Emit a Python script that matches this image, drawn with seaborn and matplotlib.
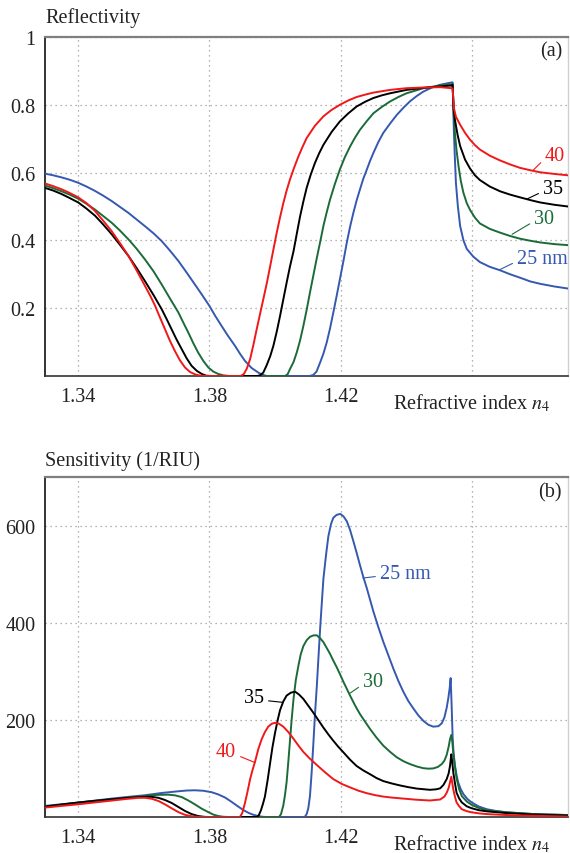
import numpy as np
import pandas as pd
import matplotlib
matplotlib.use("Agg")
import matplotlib.pyplot as plt
import seaborn as sns

# ---------------- data: reflectivity (panel a) ----------------
n_r40 = [1.3300, 1.3325, 1.3350, 1.3375, 1.3401, 1.3426, 1.3452, 1.3477, 1.3503, 1.3528, 1.3554, 1.3579,
         1.3604, 1.3620, 1.3635, 1.3650, 1.3665, 1.3680, 1.3695, 1.3710, 1.3726, 1.3741, 1.3756, 1.3772,
         1.3790, 1.3895, 1.3905, 1.3914, 1.3924, 1.3934, 1.3944, 1.3954, 1.3964, 1.3975, 1.3985, 1.3995,
         1.4005, 1.4015, 1.4025, 1.4035, 1.4045, 1.4058, 1.4071, 1.4084, 1.4096, 1.4121, 1.4147, 1.4172,
         1.4197, 1.4223, 1.4248, 1.4274, 1.4299, 1.4350, 1.4400, 1.4451, 1.4502, 1.4537, 1.4540, 1.4544,
         1.4550, 1.4563, 1.4578, 1.4593, 1.4608, 1.4623, 1.4653, 1.4684, 1.4715, 1.4745, 1.4776, 1.4806,
         1.4850, 1.4891]
r40 = [0.568, 0.560, 0.551, 0.540, 0.527, 0.510, 0.487, 0.458, 0.427, 0.392, 0.354, 0.311,
       0.266, 0.237, 0.207, 0.172, 0.138, 0.104, 0.074, 0.047, 0.025, 0.012, 0.005, 0.001,
       0.0, 0.0, 0.006, 0.022, 0.05, 0.092, 0.138, 0.182, 0.226, 0.275, 0.324, 0.374,
       0.423, 0.468, 0.51, 0.547, 0.579, 0.615, 0.648, 0.677, 0.702, 0.738, 0.766, 0.785,
       0.800, 0.813, 0.823, 0.830, 0.836, 0.844, 0.849, 0.851, 0.852, 0.849, 0.848, 0.790,
       0.765, 0.741, 0.717, 0.697, 0.681, 0.668, 0.650, 0.636, 0.624, 0.614, 0.607, 0.601,
       0.596, 0.592]

n_r35 = [1.3300, 1.3325, 1.3350, 1.3375, 1.3401, 1.3426, 1.3452, 1.3477, 1.3503, 1.3528, 1.3554, 1.3579,
         1.3604, 1.3630, 1.3655, 1.3670, 1.3685, 1.3700, 1.3716, 1.3731, 1.3746, 1.3762, 1.3777, 1.3790,
         1.3805, 1.3945, 1.3954, 1.3964, 1.3974, 1.3985, 1.3995, 1.4005, 1.4015, 1.4025, 1.4035, 1.4045,
         1.4056, 1.4066, 1.4076, 1.4086, 1.4096, 1.4108, 1.4121, 1.4134, 1.4147, 1.4172, 1.4197, 1.4223,
         1.4248, 1.4274, 1.4299, 1.4325, 1.4350, 1.4400, 1.4451, 1.4502, 1.4537, 1.4540, 1.4543, 1.4547,
         1.4555, 1.4563, 1.4578, 1.4593, 1.4608, 1.4623, 1.4653, 1.4684, 1.4715, 1.4745, 1.4776, 1.4806,
         1.4850, 1.4891]
r35 = [0.555, 0.547, 0.537, 0.525, 0.512, 0.494, 0.473, 0.447, 0.418, 0.387, 0.354, 0.318,
       0.280, 0.239, 0.197, 0.168, 0.138, 0.108, 0.079, 0.052, 0.030, 0.015, 0.006, 0.001,
       0.0, 0.0, 0.002, 0.010, 0.031, 0.058, 0.090, 0.131, 0.177, 0.226, 0.275, 0.322,
       0.368, 0.420, 0.471, 0.515, 0.555, 0.593, 0.628, 0.657, 0.682, 0.720, 0.751, 0.775,
       0.795, 0.809, 0.820, 0.828, 0.834, 0.844, 0.850, 0.854, 0.857, 0.859, 0.790, 0.756,
       0.712, 0.678, 0.638, 0.612, 0.592, 0.578, 0.559, 0.545, 0.535, 0.527, 0.519, 0.512,
       0.505, 0.500]

n_r30 = [1.3300, 1.3325, 1.3350, 1.3375, 1.3401, 1.3426, 1.3452, 1.3477, 1.3503, 1.3528, 1.3554, 1.3579,
         1.3604, 1.3630, 1.3655, 1.3680, 1.3706, 1.3721, 1.3736, 1.3751, 1.3766, 1.3782, 1.3797, 1.3812,
         1.3827, 1.3842, 1.3860, 1.4030, 1.4038, 1.4045, 1.4056, 1.4066, 1.4076, 1.4086, 1.4096, 1.4106,
         1.4116, 1.4126, 1.4137, 1.4147, 1.4157, 1.4167, 1.4182, 1.4197, 1.4212, 1.4228, 1.4243, 1.4258,
         1.4279, 1.4299, 1.4325, 1.4350, 1.4375, 1.4400, 1.4451, 1.4502, 1.4537, 1.4540, 1.4543, 1.4547,
         1.4552, 1.4558, 1.4565, 1.4573, 1.4583, 1.4593, 1.4608, 1.4623, 1.4653, 1.4684, 1.4715, 1.4745,
         1.4776, 1.4806, 1.4850, 1.4891]
r30 = [0.562, 0.554, 0.545, 0.535, 0.523, 0.508, 0.491, 0.472, 0.452, 0.429, 0.403, 0.375,
       0.344, 0.309, 0.270, 0.229, 0.187, 0.157, 0.128, 0.097, 0.069, 0.044, 0.025, 0.013,
       0.006, 0.002, 0.0, 0.0, 0.005, 0.02, 0.041, 0.07, 0.105, 0.148, 0.195, 0.246,
       0.295, 0.344, 0.395, 0.443, 0.483, 0.52, 0.567, 0.609, 0.645, 0.677, 0.703, 0.726,
       0.752, 0.775, 0.794, 0.810, 0.823, 0.834, 0.849, 0.857, 0.860, 0.862, 0.780, 0.717,
       0.665, 0.619, 0.575, 0.540, 0.510, 0.490, 0.467, 0.450, 0.434, 0.423, 0.413, 0.405,
       0.399, 0.394, 0.389, 0.386]

n_r25 = [1.3300, 1.3325, 1.3350, 1.3375, 1.3401, 1.3426, 1.3452, 1.3477, 1.3503, 1.3554, 1.3604, 1.3630,
         1.3655, 1.3680, 1.3706, 1.3731, 1.3756, 1.3778, 1.3800, 1.3818, 1.3837, 1.3857, 1.3878, 1.3893,
         1.3908, 1.3928, 1.3949, 1.3960, 1.3975, 1.4105, 1.4116, 1.4126, 1.4137, 1.4147, 1.4157, 1.4167,
         1.4177, 1.4187, 1.4197, 1.4208, 1.4218, 1.4228, 1.4238, 1.4248, 1.4258, 1.4268, 1.4279, 1.4289,
         1.4299, 1.4314, 1.4329, 1.4350, 1.4370, 1.4390, 1.4410, 1.4431, 1.4451, 1.4477, 1.4502, 1.4537,
         1.4540, 1.4544, 1.4547, 1.4550, 1.4556, 1.4563, 1.4573, 1.4583, 1.4603, 1.4623, 1.4653, 1.4684,
         1.4715, 1.4745, 1.4776, 1.4806, 1.4850, 1.4891]
r25 = [0.597, 0.592, 0.586, 0.579, 0.570, 0.559, 0.546, 0.532, 0.516, 0.481, 0.442, 0.421,
       0.398, 0.370, 0.339, 0.305, 0.270, 0.239, 0.207, 0.177, 0.148, 0.118, 0.089, 0.066,
       0.045, 0.024, 0.010, 0.004, 0.0, 0.0, 0.003, 0.013, 0.04, 0.066, 0.099, 0.140,
       0.187, 0.235, 0.285, 0.340, 0.393, 0.440, 0.481, 0.518, 0.55, 0.581, 0.609, 0.635,
       0.658, 0.690, 0.717, 0.745, 0.77, 0.791, 0.81, 0.826, 0.839, 0.851, 0.859, 0.866,
       0.866, 0.717, 0.640, 0.570, 0.500, 0.442, 0.400, 0.375, 0.352, 0.336, 0.322, 0.312,
       0.300, 0.290, 0.279, 0.272, 0.264, 0.258]

# ---------------- data: sensitivity (panel b) ----------------
n_s40 = [1.3300, 1.3350, 1.3401, 1.3452, 1.3503, 1.3545, 1.3584, 1.3605, 1.3625, 1.3645, 1.3665, 1.3685,
         1.3706, 1.3726, 1.3746, 1.3765, 1.3780, 1.3893, 1.3900, 1.3908, 1.3916, 1.3924, 1.3931, 1.3939,
         1.3949, 1.3959, 1.3969, 1.3979, 1.3990, 1.4000, 1.4012, 1.4025, 1.4040, 1.4056, 1.4071, 1.4086,
         1.4106, 1.4127, 1.4152, 1.4177, 1.4203, 1.4228, 1.4254, 1.4279, 1.4304, 1.4329, 1.4355, 1.4380,
         1.4431, 1.4471, 1.4502, 1.4515, 1.4522, 1.4528, 1.4532, 1.4536, 1.4539, 1.4542, 1.4547, 1.4552,
         1.4560, 1.4568, 1.4583, 1.4598, 1.4620, 1.4644, 1.4705, 1.4786, 1.4891]
s40 = [19.4, 22.8, 26.2, 30, 33.8, 37, 39.5, 39.5, 37.5, 33, 26, 18,
       10, 4.5, 1.5, 0.3, 0, 0, 8, 28, 52, 78, 96, 114,
       140, 160, 175, 186, 192, 194, 192, 186, 175, 161, 147, 134,
       120, 107, 92, 78, 68, 61, 54, 49, 45, 42, 40, 38.5,
       35.5, 34, 36, 42, 50, 60, 71, 83, 70, 57, 42, 30,
       22, 16, 12, 9.6, 7.5, 6, 4, 2.6, 0.8]

n_s35 = [1.3300, 1.3350, 1.3401, 1.3452, 1.3503, 1.3554, 1.3604, 1.3625, 1.3645, 1.3665, 1.3685, 1.3706,
         1.3726, 1.3746, 1.3766, 1.3785, 1.3800, 1.3944, 1.3950, 1.3957, 1.3963, 1.3969, 1.3977, 1.3985,
         1.3992, 1.4000, 1.4008, 1.4015, 1.4025, 1.4035, 1.4048, 1.4061, 1.4073, 1.4086, 1.4101, 1.4116,
         1.4132, 1.4147, 1.4162, 1.4177, 1.4193, 1.4208, 1.4228, 1.4248, 1.4268, 1.4289, 1.4309, 1.4329,
         1.4355, 1.4380, 1.4405, 1.4431, 1.4471, 1.4490, 1.4502, 1.4512, 1.4522, 1.4528, 1.4532, 1.4536,
         1.4539, 1.4542, 1.4547, 1.4552, 1.4560, 1.4568, 1.4583, 1.4598, 1.4620, 1.4644, 1.4705, 1.4786,
         1.4891]
s35 = [21.4, 25.5, 29.7, 33.2, 36.5, 39.5, 41.5, 41.5, 39.5, 35, 29, 20.5,
       12.4, 6, 2, 0.3, 0, 0, 3, 14, 27, 42, 75, 112,
       144, 174, 200, 220, 238, 250, 256, 258, 252, 243, 229, 215,
       199, 184, 170, 157, 144, 133, 118, 105, 96, 88, 80, 74,
       69, 65, 61.5, 58.5, 56, 57, 59, 66, 78, 90, 105, 129,
       112, 92, 70, 50, 38, 30, 22, 18, 14, 11.6, 8, 5,
       3]

n_s30 = [1.3300, 1.3350, 1.3401, 1.3452, 1.3503, 1.3554, 1.3604, 1.3640, 1.3675, 1.3696, 1.3716, 1.3736,
         1.3756, 1.3777, 1.3797, 1.3812, 1.3827, 1.3842, 1.3858, 1.4012, 1.4018, 1.4025, 1.4030, 1.4035,
         1.4040, 1.4045, 1.4050, 1.4056, 1.4063, 1.4071, 1.4078, 1.4086, 1.4096, 1.4106, 1.4117, 1.4127,
         1.4137, 1.4147, 1.4157, 1.4167, 1.4177, 1.4187, 1.4198, 1.4208, 1.4218, 1.4228, 1.4243, 1.4258,
         1.4274, 1.4289, 1.4309, 1.4329, 1.4350, 1.4370, 1.4390, 1.4410, 1.4431, 1.4451, 1.4466, 1.4481,
         1.4495, 1.4507, 1.4515, 1.4522, 1.4528, 1.4532, 1.4536, 1.4539, 1.4542, 1.4547, 1.4552, 1.4560,
         1.4568, 1.4583, 1.4598, 1.4620, 1.4644, 1.4705, 1.4786, 1.4891]
s30 = [21.4, 25.5, 29.7, 33.2, 36.5, 40, 43.4, 45.5, 46, 44.5, 41, 34,
       26, 17, 10, 5, 2, 0.5, 0, 0, 6, 24, 45, 72,
       112, 155, 198, 243, 282, 312, 335, 352, 364, 371, 374, 374,
       368, 360, 348, 336, 322, 309, 293, 278, 264, 250, 230, 212,
       196, 181, 163, 147, 134, 123, 115, 109, 104, 100.5, 99.5, 100,
       103, 109, 116, 128, 145, 160, 169, 155, 133, 104, 80, 57,
       43, 32, 25, 18.5, 14, 9.6, 6, 4]

n_s25 = [1.3300, 1.3350, 1.3401, 1.3452, 1.3503, 1.3554, 1.3604, 1.3655, 1.3706, 1.3731, 1.3756, 1.3782,
         1.3807, 1.3827, 1.3848, 1.3868, 1.3888, 1.3904, 1.3919, 1.3934, 1.3949, 1.3960, 1.3972, 1.4090,
         1.4096, 1.4101, 1.4106, 1.4111, 1.4116, 1.4121, 1.4127, 1.4132, 1.4137, 1.4142, 1.4147, 1.4155,
         1.4162, 1.4170, 1.4177, 1.4187, 1.4198, 1.4208, 1.4218, 1.4228, 1.4238, 1.4248, 1.4258, 1.4268,
         1.4279, 1.4289, 1.4299, 1.4314, 1.4329, 1.4345, 1.4360, 1.4375, 1.4390, 1.4405, 1.4421, 1.4436,
         1.4451, 1.4466, 1.4481, 1.4497, 1.4507, 1.4515, 1.4522, 1.4527, 1.4531, 1.4534, 1.4537, 1.4540,
         1.4543, 1.4547, 1.4552, 1.4557, 1.4565, 1.4573, 1.4585, 1.4598, 1.4620, 1.4644, 1.4675, 1.4705,
         1.4786, 1.4891]
s25 = [22.8, 26.3, 29.7, 33.8, 37.9, 41.5, 44.8, 49.5, 53, 54.5, 55, 54,
       51, 46.5, 40, 31, 21.4, 14, 8.5, 4.5, 2, 0.6, 0, 0,
       6, 18, 43, 90, 147, 208, 271, 330, 388, 440, 491, 540,
       578, 603, 616, 622, 624, 619, 609, 591, 568, 544, 519, 495,
       471, 447, 423, 391, 361, 332, 305, 280, 258, 239, 223, 209,
       198, 190, 186, 187, 193, 205, 225, 245, 265, 286, 230, 165,
       130, 106, 86, 71, 57, 47, 37, 30, 21.5, 16, 12, 9.6,
       6, 4]

thickness = ["25", "30", "35", "40"]
colors = {"25": "#3558b0", "30": "#1b6b38", "35": "#000000", "40": "#f01818"}

x_ticks = [1.34, 1.38, 1.42, 1.46]
x_ticklabels = ["1.34", "1.38", "1.42", ""]
r_ticks = [0.2, 0.4, 0.6, 0.8, 1.0]
r_ticklabels = ["0.2", "0.4", "0.6", "0.8", "1"]
s_ticks = [200, 400, 600]
s_ticklabels = ["200", "400", "600"]


def long_df(ns, vs):
    frames = []
    for d, n, v in zip(thickness, ns, vs):
        frames.append(pd.DataFrame({"n": n, "v": v, "d": d}))
    return pd.concat(frames, ignore_index=True)


df_r = long_df([n_r25, n_r30, n_r35, n_r40], [r25, r30, r35, r40])
df_s = long_df([n_s25, n_s30, n_s35, n_s40], [s25, s30, s35, s40])

sns.set_style("white")
plt.rcParams["font.family"] = ["Liberation Serif", "DejaVu Serif"]
plt.rcParams["mathtext.fontset"] = "stix"

FS = 14.5
W, H = 570, 854
fig = plt.figure(figsize=(W / 100, H / 100), dpi=100)
ax1 = fig.add_axes([45 / W, 1 - 377 / H, 523 / W, 339 / H])
ax2 = fig.add_axes([45 / W, 1 - 818 / H, 523 / W, 340 / H])

for ax, df, ylim, yt, ytl in [(ax1, df_r, (0, 1), r_ticks, r_ticklabels),
                              (ax2, df_s, (0, 700), s_ticks, s_ticklabels)]:
    sns.lineplot(data=df, x="n", y="v", hue="d", hue_order=thickness, palette=colors,
                 estimator=None, sort=False, legend=False, linewidth=1.4, ax=ax, zorder=3)
    ax.set_xlim(1.33, 1.4891)
    ax.set_ylim(*ylim)
    ax.set_xticks(x_ticks)
    ax.set_xticklabels(x_ticklabels)
    ax.set_yticks(yt)
    ax.set_yticklabels(ytl)
    ax.set_xlabel("")
    ax.set_ylabel("")
    ax.tick_params(axis="both", length=0, labelsize=FS, colors="#222222")
    ax.tick_params(axis="y", pad=7)
    ax.tick_params(axis="x", pad=8)
    ax.grid(True, linestyle=(0, (1, 3)), color="#9a9a9a", linewidth=0.9)
    ax.spines["left"].set_color("#111111")
    ax.spines["left"].set_linewidth(1.2)
    ax.spines["bottom"].set_color("#333333")
    ax.spines["bottom"].set_linewidth(1.2)
    ax.spines["top"].set_color("#7f7f7f")
    ax.spines["top"].set_linewidth(1.6)
    ax.spines["right"].set_color("#cfcfcf")
    ax.spines["right"].set_linewidth(1.0)
    ax.text(0.665, -0.077, "Refractive index $n_4$", transform=ax.transAxes,
            ha="left", va="center", fontsize=FS, color="#222222")

ax1.text(0.0, 1.058, "Reflectivity", transform=ax1.transAxes, ha="left", va="center",
         fontsize=FS, color="#222222")
ax2.text(0.0, 1.05, "Sensitivity (1/RIU)", transform=ax2.transAxes, ha="left", va="center",
         fontsize=FS, color="#222222")
ax1.text(0.9885, 0.959, "(a)", transform=ax1.transAxes, ha="right", va="center",
         fontsize=FS, color="#222222")
ax2.text(0.9885, 0.956, "(b)", transform=ax2.transAxes, ha="right", va="center",
         fontsize=FS, color="#222222")

# curve labels with leader lines
labels_a = [("40", "40", (1.4785, 0.607), (1.4821, 0.650), "left"),
            ("35", "35", (1.4766, 0.522), (1.4815, 0.553), "left"),
            ("30", "30", (1.4721, 0.418), (1.4788, 0.465), "left"),
            ("25", "25 nm", (1.4684, 0.314), (1.4736, 0.347), "left")]
labels_b = [("25", "25 nm", (1.4267, 492), (1.4319, 502), "left"),
            ("30", "30", (1.4228, 255), (1.4267, 279), "left"),
            ("35", "35", (1.4024, 236), (1.3966, 246), "right"),
            ("40", "40", (1.3939, 112), (1.3881, 134), "right")]
for ax, labs in [(ax1, labels_a), (ax2, labels_b)]:
    for key, txt, xy, xyt, ha in labs:
        c = colors[key]
        ax.annotate(txt, xy=xy, xytext=xyt, ha=ha, va="center", fontsize=FS, color=c,
                    arrowprops=dict(arrowstyle="-", color=c, lw=0.8, shrinkA=1, shrinkB=0,
                                    relpos=(0 if ha == "left" else 1, 0.35)),
                    zorder=4)

fig.savefig("out.png", dpi=100)
